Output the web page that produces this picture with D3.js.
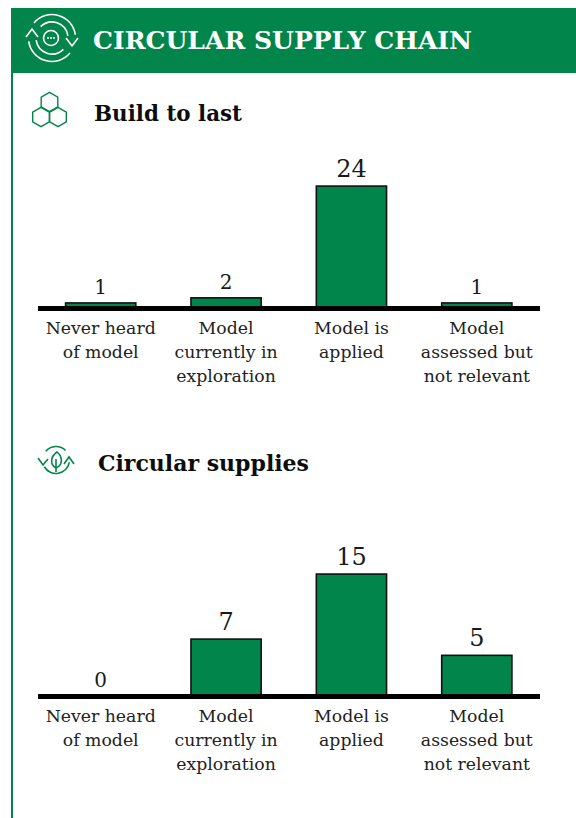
<!DOCTYPE html>
<html>
  <head>
    <meta charset="utf-8">
    <title>Circular supply chain</title>
    <script src="https://cdn.jsdelivr.net/npm/d3@7"></script>
    <style>
      html, body { margin: 0; padding: 0; background: #ffffff; }
      svg { display: block; }
      text { font-family: "DejaVu Serif", "Liberation Serif", serif; }
    </style>
  </head>
  <body>
    <svg width="576" height="818" id="mainsvg"></svg>
    <script>
      // values
      const categories = ['Never heard of model', 'Model currently in exploration', 'Model is applied', 'Model assessed but not relevant'];
      const categoryLines = [
        ['Never heard', 'of model'],
        ['Model', 'currently in', 'exploration'],
        ['Model is', 'applied'],
        ['Model', 'assessed but', 'not relevant']
      ];
      const buildToLast = [1, 2, 24, 1];
      const circularSupplies = [0, 7, 15, 5];

      const title = 'CIRCULAR SUPPLY CHAIN';
      const green = '#02854a';

      const svg = d3.select('#mainsvg');

      // frame + header band
      svg.append('rect').attr('x', 11).attr('y', 8).attr('width', 2).attr('height', 810).attr('fill', green);
      svg.append('rect').attr('x', 11).attr('y', 8).attr('width', 565).attr('height', 65).attr('fill', green);
      svg.append('text')
        .attr('x', 93).attr('y', 49)
        .attr('font-size', 24).attr('font-weight', 'bold')
        .attr('fill', '#ffffff')
        .attr('textLength', 379).attr('lengthAdjust', 'spacingAndGlyphs')
        .text(title);

      const xScale = d3.scaleBand()
        .domain(categories)
        .range([38, 539.5])
        .paddingInner(0.44)
        .paddingOuter(0.22);

      const drawChart = function (values, baseline, unit, maxV) {
        const yScale = d3.scaleLinear().domain([0, maxV]).range([baseline, baseline - unit * maxV]);
        const g = svg.append('g');

        g.selectAll('.bar').data(values).enter().append('rect')
          .attr('class', 'bar')
          .attr('x', (d, i) => xScale(categories[i]))
          .attr('y', d => yScale(d))
          .attr('width', xScale.bandwidth())
          .attr('height', d => baseline - yScale(d))
          .attr('fill', green)
          .attr('stroke', '#111111')
          .attr('stroke-width', 1.6)
          .style('display', d => d === 0 ? 'none' : null);

        g.selectAll('.val').data(values).enter().append('text')
          .attr('class', 'val')
          .attr('x', (d, i) => xScale(categories[i]) + xScale.bandwidth() / 2)
          .attr('y', d => yScale(d) - 9)
          .attr('text-anchor', 'middle')
          .attr('font-size', d => d >= 5 ? 24 : 20)
          .attr('fill', '#1a1a1a')
          .text(d => d);

        // thick axis line
        g.append('line')
          .attr('x1', 38).attr('x2', 540)
          .attr('y1', baseline + 0.5).attr('y2', baseline + 0.5)
          .attr('stroke', '#000000').attr('stroke-width', 5);

        const labels = g.selectAll('.cat').data(categoryLines).enter().append('text')
          .attr('class', 'cat')
          .attr('text-anchor', 'middle')
          .attr('font-size', 17.3)
          .attr('fill', '#222222');
        labels.selectAll('tspan').data((d, i) => d.map(s => ({ s, i }))).enter().append('tspan')
          .attr('x', d => xScale(categories[d.i]) + xScale.bandwidth() / 2)
          .attr('y', (d, j) => baseline + 26 + j * 24)
          .text(d => d.s);
      };

      const sectionHead = function (text, x, y, w) {
        svg.append('text').attr('x', x).attr('y', y)
          .attr('font-size', 22).attr('font-weight', 'bold').attr('fill', '#0d0d0d')
          .attr('textLength', w).attr('lengthAdjust', 'spacingAndGlyphs')
          .text(text);
      };

      drawChart(buildToLast, 308, 5.08, 24);
      drawChart(circularSupplies, 696, 8.13, 15);
      sectionHead('Build to last', 94, 121, 148);
      sectionHead('Circular supplies', 98, 471, 211);

      // --- icons ---
      const hexPath = function (cx, cy, r) {
        const p = d3.path();
        d3.range(6).forEach(i => {
          const a = Math.PI / 3 * i - Math.PI / 2;
          const px = cx + r * Math.cos(a), py = cy + r * Math.sin(a);
          if (i === 0) p.moveTo(px, py); else p.lineTo(px, py);
        });
        p.closePath();
        return p.toString();
      };
      const hex = svg.append('g').attr('fill', 'none').attr('stroke', green).attr('stroke-width', 1.4);
      [[49.5, 102], [41, 117], [58, 117]].forEach(c => hex.append('path').attr('d', hexPath(c[0], c[1], 9.6)));

      const arcPath = function (cx, cy, r, a0, a1) {
        return d3.arc().innerRadius(r).outerRadius(r).startAngle(a0).endAngle(a1)().split('L')[0];
      };
      const deg = Math.PI / 180;

      // header icon: two turns of arrows round a bubble
      const hi = svg.append('g').attr('fill', 'none').attr('stroke', '#ffffff').attr('stroke-width', 1.6);
      const hc = [52, 38];
      hi.append('circle').attr('cx', hc[0] - 1).attr('cy', hc[1]).attr('r', 7.5);
      hi.append('path').attr('transform', `translate(${hc})`).attr('d', arcPath(0, 0, 23.5, -50 * deg, 82 * deg));
      hi.append('path').attr('transform', `translate(${hc})`).attr('d', arcPath(0, 0, 23.5, 130 * deg, 262 * deg));
      hi.append('path').attr('transform', `translate(${hc})`).attr('d', arcPath(0, 0, 16, -45 * deg, 82 * deg));
      hi.append('path').attr('transform', `translate(${hc})`).attr('d', arcPath(0, 0, 16, 135 * deg, 262 * deg));
      hi.append('path').attr('d', 'M 66 38 L 72 46 L 78 38 M 26 37 L 32 29 L 38 37');
      hi.selectAll('.dot').data([-3, 0, 3]).enter().append('circle')
        .attr('cx', d => hc[0] - 1 + d).attr('cy', hc[1]).attr('r', 1)
        .attr('fill', '#ffffff').attr('stroke', 'none');

      // leaf icon for the second section
      const li = svg.append('g').attr('fill', 'none').attr('stroke', green).attr('stroke-width', 1.6);
      const lc = [56, 460];
      li.append('path').attr('transform', `translate(${lc})`).attr('d', arcPath(0, 0, 13.5, -50 * deg, 45 * deg));
      li.append('path').attr('transform', `translate(${lc})`).attr('d', arcPath(0, 0, 13.5, 100 * deg, 240 * deg));
      li.append('path').attr('d', 'M 57 452 C 50 457 50 465 56 468 C 63 465 63 457 57 452 Z M 56 459 L 56 472');
      li.append('path').attr('d', 'M 38 458 L 43 465 L 48 459 M 64 464 L 69 457 L 74 464');
    </script>
  </body>
</html>
